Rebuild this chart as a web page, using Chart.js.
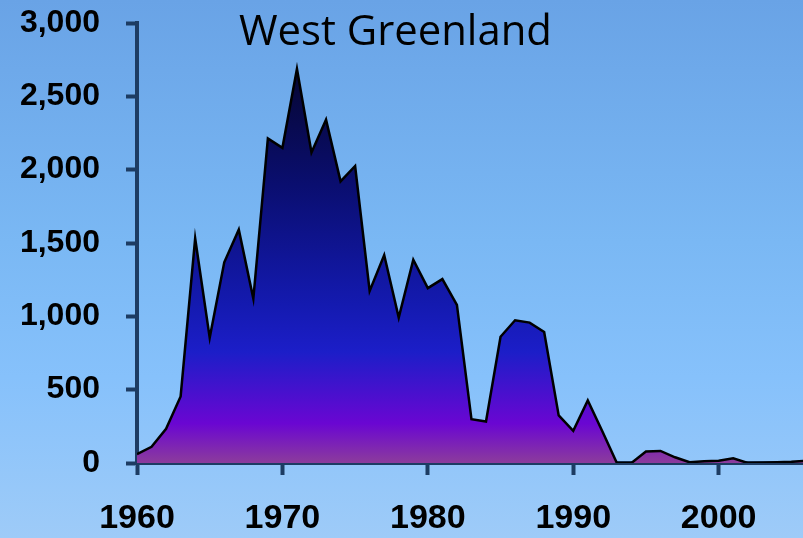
<!DOCTYPE html>
<html>
<head>
<meta charset="utf-8">
<script src="https://cdn.jsdelivr.net/npm/chart.js@4.4.1/dist/chart.umd.min.js"></script>
<style>
  html, body { margin: 0; padding: 0; }
  body { width: 803px; height: 538px; overflow: hidden;
         background: linear-gradient(to bottom, #69a3e6 0%, #7ab8f4 45%, #86c1fb 70%, #9ecbf8 100%); }
  #wrap { position: relative; width: 803px; height: 538px; }
</style>
</head>
<body>
<div id="wrap"><canvas id="chart" width="803" height="538"></canvas></div>
<script>
const chartTitle = "West Greenland";
const years = [1960, 1961, 1962, 1963, 1964, 1965, 1966, 1967, 1968, 1969,
  1970, 1971, 1972, 1973, 1974, 1975, 1976, 1977, 1978, 1979,
  1980, 1981, 1982, 1983, 1984, 1985, 1986, 1987, 1988, 1989,
  1990, 1991, 1992, 1993, 1994, 1995, 1996, 1997, 1998, 1999,
  2000, 2001, 2002, 2003, 2004, 2005, 2006];
const catches = [60, 110, 233, 454, 1532, 854, 1368, 1591, 1121, 2213,
  2149, 2687, 2117, 2341, 1920, 2025, 1173, 1418, 991, 1386,
  1192, 1254, 1078, 299, 283, 861, 973, 957, 893, 324,
  219, 427, 217, 0, 0, 78, 82, 39, 5, 12,
  15, 32, 0, 2, 5, 8, 15];
const yTicks = [0, 500, 1000, 1500, 2000, 2500, 3000];
const xTicks = [1960, 1970, 1980, 1990, 2000];

const axisColor = "#1d3c63";
const tickFont = "'Liberation Sans', Arial, sans-serif";

function fillGradient(context) {
  const chart = context.chart;
  const area = chart.chartArea;
  if (!area) return "#1a20c8";
  const y = chart.scales.y;
  const g = chart.ctx.createLinearGradient(0, y.getPixelForValue(2700), 0, y.getPixelForValue(0));
  g.addColorStop(0, "#060630");
  g.addColorStop(0.3, "#0a0e70");
  g.addColorStop(0.6, "#141ab0");
  g.addColorStop(0.72, "#1c1ec8");
  g.addColorStop(0.9, "#6a06d2");
  g.addColorStop(1, "#8c3c9c");
  return g;
}

const titlePlugin = {
  id: "slideTitle",
  afterDraw(chart) {
    const ctx = chart.ctx;
    ctx.save();
    ctx.font = "40px 'Open Sans'";
    const w = ctx.measureText(chartTitle).width;
    const size = 40 * 313 / w;
    ctx.font = size + "px 'Open Sans'";
    ctx.fillStyle = "#000";
    ctx.textAlign = "left";
    ctx.textBaseline = "alphabetic";
    ctx.fillText(chartTitle, 239, 45);
    ctx.restore();
  }
};

new Chart(document.getElementById("chart"), {
  type: "line",
  data: {
    datasets: [{
      data: years.map((yr, i) => ({ x: yr, y: catches[i] })),
      borderColor: "#000",
      borderWidth: 2.5,
      backgroundColor: fillGradient,
      fill: "origin",
      pointRadius: 0,
      tension: 0
    }]
  },
  options: {
    responsive: false,
    animation: false,
    layout: { padding: { top: 23, right: 0, left: 0, bottom: 0 } },
    plugins: { legend: { display: false }, tooltip: { enabled: false } },
    scales: {
      x: {
        type: "linear",
        min: 1960,
        max: 2005.8,
        afterBuildTicks: s => { s.ticks = xTicks.map(v => ({ value: v })); },
        afterFit: s => { s.height = 75; s.paddingLeft = 0; s.paddingRight = 0; },
        grid: { display: true, drawOnChartArea: false, drawTicks: true, tickLength: 12, tickColor: axisColor, tickWidth: 4 },
        border: { display: true, color: axisColor, width: 4 },
        ticks: { color: "#000", font: { family: tickFont, size: 34, weight: "bold" }, padding: 23, maxRotation: 0,
                 callback: v => String(v) }
      },
      y: {
        min: 0,
        max: 3000,
        afterBuildTicks: s => { s.ticks = yTicks.map(v => ({ value: v })); },
        afterFit: s => { s.width = 137; s.paddingTop = 0; s.paddingBottom = 0; },
        grid: { display: true, drawOnChartArea: false, drawTicks: true, tickLength: 11, tickColor: axisColor, tickWidth: 4 },
        border: { display: true, color: axisColor, width: 4 },
        ticks: { color: "#000", font: { family: tickFont, size: 32, weight: "bold" }, padding: 26,
                 callback: v => v.toLocaleString("en-US") }
      }
    }
  },
  plugins: [titlePlugin]
});
</script>
</body>
</html>
